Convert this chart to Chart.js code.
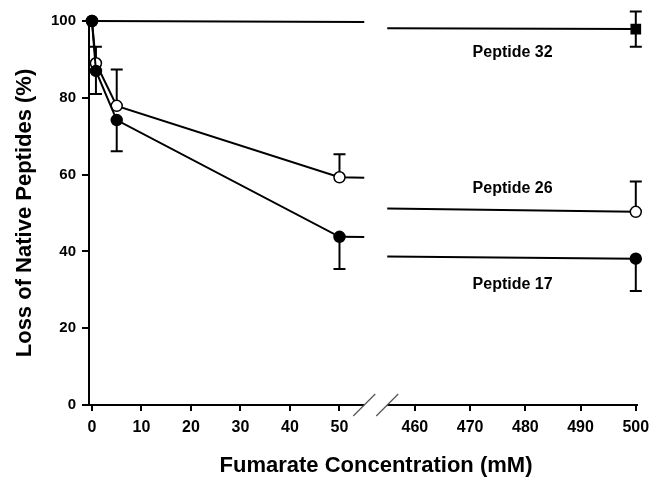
<!DOCTYPE html>
<html>
<head>
<meta charset="utf-8">
<script src="https://cdn.jsdelivr.net/npm/chart.js@4.4.1/dist/chart.umd.min.js"></script>
<style>
  html, body { margin: 0; padding: 0; background: #fff; }
  #wrap { width: 650px; height: 477px; }
</style>
</head>
<body>
<div id="wrap"><canvas id="chart" width="650" height="477"></canvas></div>
<script>
// fumarate concentration (mM) and % native peptide lost
const concentrations = [0, 0.8, 5, 50, 500];
const peptide17 = [100, 87.0, 74.2, 43.8, 38.1];
const peptide17Err = [0, 6.0, 8.1, 8.4, 8.4];   // drawn downward
const peptide26 = [100, 89.0, 77.9, 59.3, 50.3];
const peptide26Err = [0, 4.3, 9.5, 6.0, 7.9];   // drawn upward
const peptide32X = [0, 500];
const peptide32 = [100, 97.9];
const peptide32Err = [0, 4.6];                  // both ways

const leftTicks = [0, 10, 20, 30, 40, 50];
const rightTicks = [460, 470, 480, 490, 500];
const yTicks = [0, 20, 40, 60, 80, 100];

const peptideNames = ['Peptide 32', 'Peptide 26', 'Peptide 17'];
const nameAnchorX = 477.7;              // on the right-hand x scale
const nameAnchorY = [90.7, 55.3, 30.1]; // baseline, in % units

// broken axis: left piece ends at 55, right piece starts at 455
const BREAK_LEFT = 55;
const BREAK_RIGHT = 455;

const FONT = '"Liberation Sans", Arial, Helvetica, sans-serif';

function toPoints(xs, ys) {
    return xs.map((x, i) => ({ x: x, y: ys[i] }));
}

function makeSet(label, xs, ys, errs, dir, axis, style) {
    return {
        label: label,
        data: toPoints(xs, ys),
        xs: xs,
        ys: ys,
        errs: errs,
        errDir: dir,
        xAxisID: axis,
        yAxisID: 'y',
        borderColor: '#000',
        borderWidth: 2,
        tension: 0,
        clip: false,
        pointStyle: style.shape,
        pointRadius: style.radius,
        pointHoverRadius: style.radius,
        pointBackgroundColor: style.fill,
        pointBorderColor: '#000',
        pointBorderWidth: 1.5
    };
}

const filled = { shape: 'circle', radius: 5.5, fill: '#000' };
const open = { shape: 'circle', radius: 5.5, fill: '#fff' };
const square = { shape: 'rect', radius: [0, 6.5], fill: '#000' };

const datasets = [];
['xL', 'xR'].forEach(axis => {
    datasets.push(makeSet('Peptide 17', concentrations, peptide17, peptide17Err, 'down', axis, filled));
    datasets.push(makeSet('Peptide 26', concentrations, peptide26, peptide26Err, 'up', axis, open));
    datasets.push(makeSet('Peptide 32', peptide32X, peptide32, peptide32Err, 'both', axis, square));
});

function drawBar(ctx, x, y0, y1) {
    ctx.beginPath();
    ctx.moveTo(x, y0);
    ctx.lineTo(x, y1);
    ctx.moveTo(x - 6, y1);
    ctx.lineTo(x + 6, y1);
    ctx.stroke();
}

const brokenAxis = {
    id: 'brokenAxis',
    afterLayout(chart) {
        // right-hand x scale shares the label strip of the left one
        const l = chart.scales.xL, r = chart.scales.xR;
        r.top = l.top;
        r.bottom = l.bottom;
        r.height = l.height;
    },
    beforeDatasetDraw(chart, args) {
        const ds = chart.data.datasets[args.index];
        const ctx = chart.ctx;
        const xs = chart.scales[ds.xAxisID];
        const ys = chart.scales.y;

        ctx.save();
        ctx.beginPath();
        if (ds.xAxisID === 'xL') {
            const cut = chart.scales.xL.getPixelForValue(BREAK_LEFT);
            ctx.rect(0, 0, cut, chart.height);
        } else {
            const cut = chart.scales.xR.getPixelForValue(BREAK_RIGHT);
            ctx.rect(cut, 0, chart.width - cut, chart.height);
        }
        ctx.clip();

        // error bars, under the markers
        ctx.strokeStyle = '#000';
        ctx.lineWidth = 2;
        ds.xs.forEach((xv, i) => {
            const e = ds.errs[i];
            if (!e) return;
            const x = xs.getPixelForValue(xv);
            const y0 = ys.getPixelForValue(ds.ys[i]);
            if (ds.errDir === 'up' || ds.errDir === 'both') {
                drawBar(ctx, x, y0, ys.getPixelForValue(ds.ys[i] + e));
            }
            if (ds.errDir === 'down' || ds.errDir === 'both') {
                drawBar(ctx, x, y0, ys.getPixelForValue(ds.ys[i] - e));
            }
        });
    },
    afterDatasetDraw(chart) {
        chart.ctx.restore();
    },
    afterDraw(chart) {
        const ctx = chart.ctx;
        const area = chart.chartArea;
        const yb = area.bottom;
        const xa = chart.scales.xL.getPixelForValue(BREAK_LEFT);
        const xb = chart.scales.xR.getPixelForValue(BREAK_RIGHT);

        ctx.save();
        // x axis in two pieces
        ctx.strokeStyle = '#000';
        ctx.lineWidth = 2;
        ctx.beginPath();
        ctx.moveTo(area.left - 1, yb);
        ctx.lineTo(xa, yb);
        ctx.moveTo(xb, yb);
        ctx.lineTo(area.right, yb);
        ctx.stroke();

        // break slashes
        ctx.strokeStyle = '#555';
        ctx.lineWidth = 1.3;
        [xa, xb].forEach(x => {
            ctx.beginPath();
            ctx.moveTo(x - 11, yb + 11);
            ctx.lineTo(x + 11, yb - 11);
            ctx.stroke();
        });

        // peptide names
        ctx.fillStyle = '#000';
        ctx.font = 'bold 16px ' + FONT;
        ctx.textAlign = 'center';
        ctx.textBaseline = 'alphabetic';
        peptideNames.forEach((name, i) => {
            ctx.fillText(name,
                chart.scales.xR.getPixelForValue(nameAnchorX),
                chart.scales.y.getPixelForValue(nameAnchorY[i]));
        });

        // x axis title, centred under the whole broken axis
        ctx.font = 'bold 22px ' + FONT;
        ctx.textBaseline = 'middle';
        ctx.fillText('Fumarate Concentration (mM)', 376, 466);
        ctx.restore();
    }
};

const tickGrid = len => ({
    display: true,
    drawOnChartArea: false,
    drawTicks: true,
    tickLength: len,
    color: '#000',
    lineWidth: 2
});

const noPad = s => {
    s.paddingLeft = 0;
    s.paddingRight = 0;
    s.paddingTop = 0;
    s.paddingBottom = 0;
};

new Chart(document.getElementById('chart'), {
    type: 'line',
    data: { datasets: datasets },
    plugins: [brokenAxis],
    options: {
        responsive: false,
        animation: false,
        devicePixelRatio: 1,
        layout: { padding: { left: 0, right: 12, top: 21, bottom: 0 } },
        plugins: {
            legend: { display: false },
            tooltip: { enabled: false }
        },
        scales: {
            xR: {
                type: 'linear',
                position: 'bottom',
                weight: 0,
                min: 401,
                max: 500.4,
                afterFit: s => { s.height = 0; noPad(s); },
                afterBuildTicks: s => { s.ticks = rightTicks.map(v => ({ value: v })); },
                grid: tickGrid(6),
                border: { display: false },
                ticks: {
                    color: '#000',
                    padding: 7,
                    maxRotation: 0,
                    autoSkip: false,
                    font: { family: FONT, size: 16, weight: 'bold' }
                }
            },
            xL: {
                type: 'linear',
                position: 'bottom',
                weight: 1,
                min: -0.6,
                max: 110.3,
                afterFit: s => { s.height = 72; noPad(s); },
                afterBuildTicks: s => { s.ticks = leftTicks.map(v => ({ value: v })); },
                grid: tickGrid(6),
                border: { display: false },
                ticks: {
                    color: '#000',
                    padding: 7,
                    maxRotation: 0,
                    autoSkip: false,
                    font: { family: FONT, size: 16, weight: 'bold' }
                }
            },
            y: {
                type: 'linear',
                position: 'left',
                min: 0,
                max: 100,
                afterFit: s => { s.width = 89; noPad(s); },
                afterBuildTicks: s => { s.ticks = yTicks.map(v => ({ value: v })); },
                grid: tickGrid(7),
                border: { display: true, color: '#000', width: 2 },
                ticks: {
                    color: '#000',
                    padding: 6,
                    font: { family: FONT, size: 15, weight: 'bold' }
                },
                title: {
                    display: true,
                    text: 'Loss of Native Peptides (%)',
                    color: '#000',
                    padding: { top: 14, bottom: 0 },
                    font: { family: FONT, size: 22, weight: 'bold', lineHeight: 1 }
                }
            }
        }
    }
});
</script>
</body>
</html>
